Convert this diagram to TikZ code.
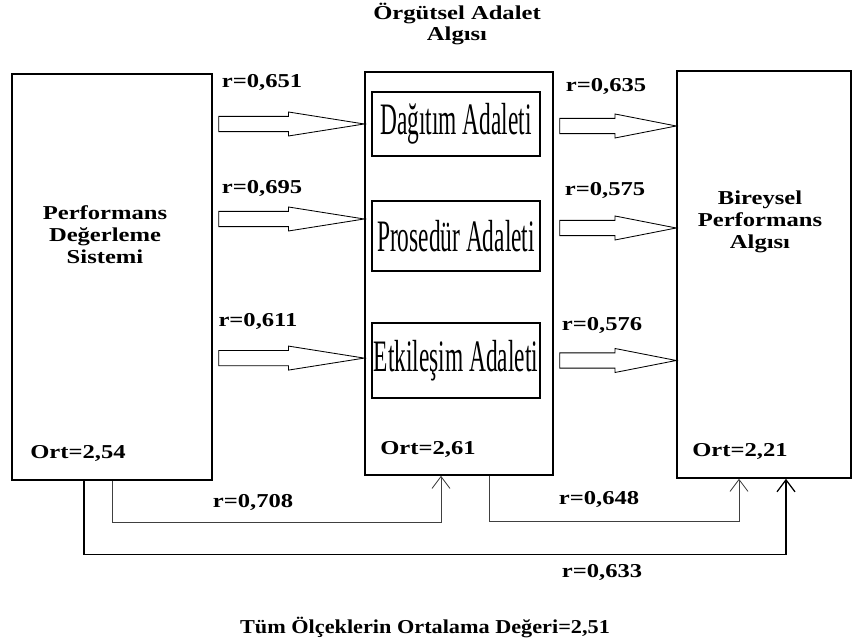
\documentclass[tikz,border=0pt]{standalone}
\usepackage{fontspec}
\setmainfont{Liberation Serif}
\usepackage{graphicx}
\usetikzlibrary{positioning,arrows.meta,calc}

\newcommand{\genis}[1]{\scalebox{1.25}[1]{#1}}
\newcommand{\dar}[1]{\scalebox{0.52}[1]{#1}}

\begin{document}
\begin{tikzpicture}[
    anakutu/.style={draw, line width=1.1pt, inner sep=0pt},
    altkutu/.style={draw, line width=0.9pt, minimum width=4.2cm, inner sep=0pt, font=\fontsize{32}{34}\selectfont},
    yazi/.style={font=\bfseries\fontsize{14}{15.5}\selectfont, inner sep=0pt, align=center},
    blok/.style={draw, fill=white, line width=0.6pt,
        to path={let \p1=(\tikztostart), \p2=(\tikztotarget), \n1={(\x2-\x1)/2} in
            (\x1+1.5mm,\y1+1.9mm) -- (\x1+\n1,\y1+1.9mm) -- (\x1+\n1,\y1+3mm) -- (\x2,\y2)
            -- (\x1+\n1,\y1-3mm) -- (\x1+\n1,\y1-1.9mm) -- (\x1+1.5mm,\y1-1.9mm) -- cycle}},
    ok/.style={-{Straight Barb[length=3mm,width=4.5mm]}, line width=0.6pt, draw=black!75}
]
    \useasboundingbox (0,0) rectangle (21.325,16.025);

    % main boxes
    \node[anakutu, minimum width=5cm, minimum height=10.15cm] (pds) at (2.8,9.1) {};
    \node[anakutu, minimum width=4.7cm, minimum height=10.075cm] (orgut) at (11.475,9.1875) {};
    \node[anakutu, minimum width=4.35cm, minimum height=10.175cm] (bpa) at (19.1,9.1625) {};

    % inner boxes
    \node[altkutu, minimum height=1.6cm] (dag) at (11.4,12.925) {\dar{Dağıtım Adaleti}};
    \node[altkutu, minimum height=1.75cm] (pro) at (11.4,10.125) {\dar{Prosedür Adaleti}};
    \node[altkutu, minimum height=1.875cm] (etk) at (11.4,7.0125) {\dar{Etkileşim Adaleti}};

    % texts
    \node[yazi] (baslik) at (11.425,15.4) {\genis{\begin{tabular}{@{}c@{}}Örgütsel Adalet\\Algısı\end{tabular}}};
    \node[yazi] (pdsyazi) at (2.625,10.1) {\genis{\begin{tabular}{@{}c@{}}Performans\\Değerleme\\Sistemi\end{tabular}}};
    \node[yazi] (bpayazi) at (19.0,10.475) {\genis{\begin{tabular}{@{}c@{}}Bireysel\\Performans\\Algısı\end{tabular}}};
    \node[yazi] (ort1) at (1.95,4.675) {\genis{Ort=2,54}};
    \node[yazi] (ort2) at (10.7,4.775) {\genis{Ort=2,61}};
    \node[yazi] (ort3) at (18.5,4.725) {\genis{Ort=2,21}};
    \node[yazi] (tum) at (10.625,0.35) {\scalebox{1.13}[1]{Tüm Ölçeklerin Ortalama Değeri=2,51}};

    % block arrows
    \draw[blok] (pds.east |- dag) to (orgut.west |- dag);
    \draw[blok] ($(pds.east |- pro)+(0,0.425)$) to ($(orgut.west |- pro)+(0,0.425)$);
    \draw[blok] ($(pds.east |- etk)+(0,0.06)$) to ($(orgut.west |- etk)+(0,0.06)$);
    \draw[blok] ($(orgut.east |- dag)+(0,-0.05)$) to ($(bpa.west |- dag)+(0,-0.05)$);
    \draw[blok] ($(orgut.east |- pro)+(0,0.2)$) to ($(bpa.west |- pro)+(0,0.2)$);
    \draw[blok] (orgut.east |- etk) to (bpa.west |- etk);

    \node[yazi] (r651) at (6.55,13.975) {\genis{r=0,651}};
    \node[yazi] (r695) at (6.55,11.325) {\genis{r=0,695}};
    \node[yazi] (r611) at (6.45,8.0) {\genis{r=0,611}};
    \node[yazi] (r635) at (15.15,13.875) {\genis{r=0,635}};
    \node[yazi] (r575) at (15.125,11.275) {\genis{r=0,575}};
    \node[yazi] (r576) at (15.05,7.9) {\genis{r=0,576}};

    % lower connections
    \draw[ok] (pds.south) -- ++(0,-1.05) -| ([xshift=-4.5mm]orgut.south);
    \draw[ok] ([xshift=7.5mm]orgut.south) -- ++(0,-1.15) -| ([xshift=-6.25mm]bpa.south);
    \draw[ok, line width=0.9pt, draw=black] ([xshift=-7mm]pds.south) -- ++(0,-1.85) -| ([xshift=5.5mm]bpa.south);

    \node[yazi] (r708) at (6.325,3.475) {\genis{r=0,708}};
    \node[yazi] (r648) at (14.975,3.55) {\genis{r=0,648}};
    \node[yazi] (r633) at (15.05,1.725) {\genis{r=0,633}};
\end{tikzpicture}
\end{document}
